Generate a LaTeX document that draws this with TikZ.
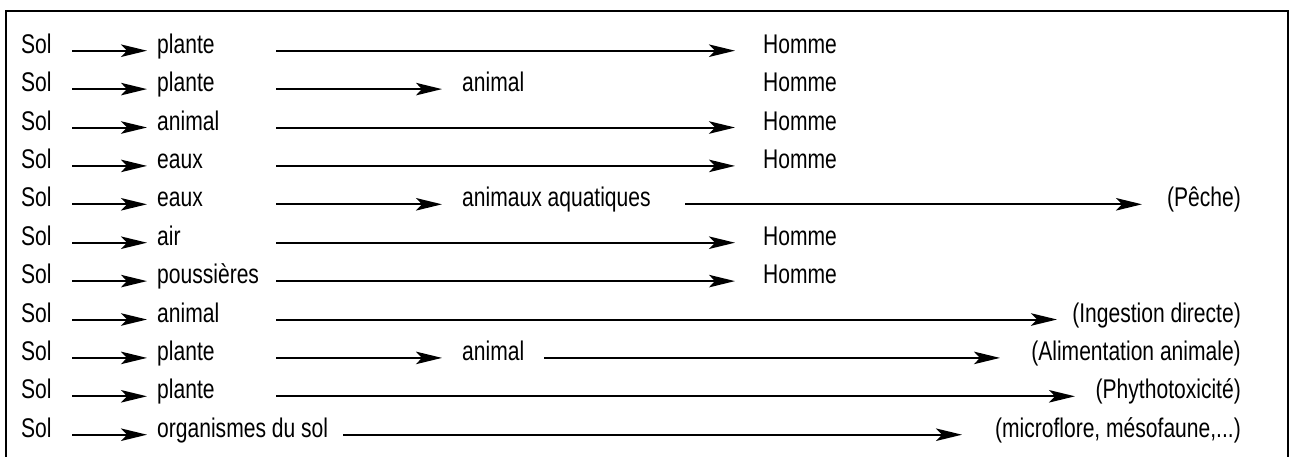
\documentclass[tikz,border=0pt]{standalone}
\usepackage{fontspec}
\setmainfont{Liberation Sans}[FakeStretch=0.78]
\usetikzlibrary{arrows.meta}
\tikzset{
  lbl/.style={anchor=base west, inner sep=0pt, font=\fontsize{27pt}{31pt}\selectfont},
  rlbl/.style={anchor=base east, inner sep=0pt, font=\fontsize{27pt}{31pt}\selectfont},
  arr/.style={-{Stealth[length=26pt,width=12.5pt,inset=6pt]}, line width=2pt},
  frame/.style={line width=2pt}
}
\begin{document}
\begin{tikzpicture}[x=1pt,y=-1pt]
\useasboundingbox (0,0) rectangle (1289,456);
\draw[frame] (5.5,460) -- (5.5,10.5) -- (1287.5,10.5) -- (1287.5,460);
% Sol column and first arrows
\foreach \i in {1,...,11}{
  \pgfmathsetmacro\ay{50.7+38.4*(\i-1)}
  \node[lbl] (s\i) at (21,\ay+2.5) {Sol};
  \coordinate (a\i) at (72,\ay);
  \coordinate (b\i) at (147,\ay);
  \draw[arr] (a\i) -- (b\i);
}
% second column
\node[lbl] (m1) at (157,53.2) {plante};
\node[lbl] (m2) at (157,91.6) {plante};
\node[lbl] (m3) at (157,130) {animal};
\node[lbl] (m4) at (157,168.4) {eaux};
\node[lbl] (m5) at (157,206.8) {eaux};
\node[lbl] (m6) at (157,245.2) {air};
\node[lbl] (m7) at (157,283.6) {poussières};
\node[lbl] (m8) at (157,322) {animal};
\node[lbl] (m9) at (157,360.4) {plante};
\node[lbl] (m10) at (157,398.8) {plante};
\node[lbl] (m11) at (157,437.2) {organismes du sol};
% third column
\node[lbl] (t2) at (462,91.6) {animal};
\node[lbl] (t5) at (462,206.8) {animaux aquatiques};
\node[lbl] (t9) at (462,360.4) {animal};
% Homme
\foreach \i/\b in {1/53.2,2/91.6,3/130,4/168.4,6/245.2,7/283.6}{
  \node[lbl] (h\i) at (763,\b) {Homme};
}
% end labels
\node[rlbl] (e5) at (1241,206.8) {(Pêche)};
\node[rlbl] (e8) at (1241,322) {(Ingestion directe)};
\node[rlbl] (e9) at (1241,360.4) {(Alimentation animale)};
\node[rlbl] (e10) at (1241,398.8) {(Phythotoxicité)};
\node[rlbl] (e11) at (1241,437.2) {(microflore, mésofaune,...)};
% second arrows to Homme
\foreach \i/\ay in {1/50.7,3/127.5,4/165.9,6/242.7,7/281.1}{
  \coordinate (c\i) at (276,\ay);
  \coordinate (d\i) at (735,\ay);
  \draw[arr] (c\i) -- (d\i);
}
% arrows to third column
\foreach \i/\ay in {2/89.1,5/204.3,9/357.9}{
  \coordinate (f\i) at (276,\ay);
  \coordinate (g\i) at (442,\ay);
  \draw[arr] (f\i) -- (g\i);
}
% long arrows
\coordinate (p5) at (685,204.3); \coordinate (q5) at (1142,204.3);
\draw[arr] (p5) -- (q5);
\coordinate (p8) at (276,319.5); \coordinate (q8) at (1057,319.5);
\draw[arr] (p8) -- (q8);
\coordinate (p9) at (544,357.9); \coordinate (q9) at (1000,357.9);
\draw[arr] (p9) -- (q9);
\coordinate (p10) at (276,396.3); \coordinate (q10) at (1075,396.3);
\draw[arr] (p10) -- (q10);
\coordinate (p11) at (343,434.7); \coordinate (q11) at (962,434.7);
\draw[arr] (p11) -- (q11);
\end{tikzpicture}
\end{document}
